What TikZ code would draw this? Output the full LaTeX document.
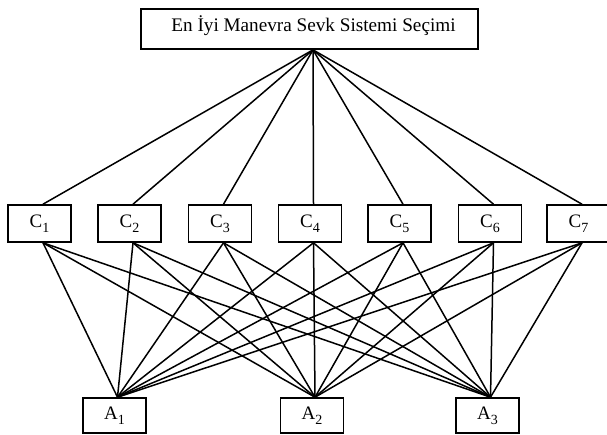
\documentclass[tikz,border=0pt]{standalone}
\usepackage{fontspec}
\setmainfont{Liberation Serif}
\newcommand{\lowsub}[1]{\raisebox{-0.25em}{\fontsize{14}{14}\selectfont #1}}
\begin{document}
\begin{tikzpicture}[x=1pt,y=-1pt,
  boxnode/.style={draw,line width=1.6pt,inner sep=0pt,minimum width=63pt,font=\fontsize{19}{19}\selectfont},
  cbox/.style={boxnode,minimum height=37pt},
  abox/.style={boxnode,minimum height=35pt},
  topbox/.style={draw,line width=1.7pt,inner sep=0pt,minimum width=337pt,text height=22pt,text depth=18pt,font=\fontsize{19.2}{19}\selectfont},
  link/.style={line width=1.5pt}]
\useasboundingbox (0,0) rectangle (607,434);
\node[topbox] (top) at (309.5,29) {\hspace{8pt}En İyi Manevra Sevk Sistemi Seçimi};
\node[cbox] (c1) at (39.5,223.5) {C\lowsub{1}};
\node[cbox] (c2) at (129.5,223.5) {C\lowsub{2}};
\node[cbox] (c3) at (220,223.5) {C\lowsub{3}};
\node[cbox] (c4) at (310,223.5) {C\lowsub{4}};
\node[cbox] (c5) at (399.5,223.5) {C\lowsub{5}};
\node[cbox] (c6) at (490,223.5) {C\lowsub{6}};
\node[cbox] (c7) at (578.5,223.5) {C\lowsub{7}};
\node[abox] (a1) at (114.5,415.5) {A\lowsub{1}};
\node[abox] (a2) at (312,415.5) {A\lowsub{2}};
\node[abox] (a3) at (487.5,415.5) {A\lowsub{3}};
\foreach \c in {c1,c2,c3,c4,c5,c6,c7}{
  \draw[link] ([xshift=3.5pt]top.south) -- ([xshift=3.5pt]\c.north);
  \foreach \a in {a1,a2,a3}{
    \draw[link] ([xshift=3.5pt]\c.south) -- ([xshift=3pt]\a.north);
  }
}
\end{tikzpicture}
\end{document}
